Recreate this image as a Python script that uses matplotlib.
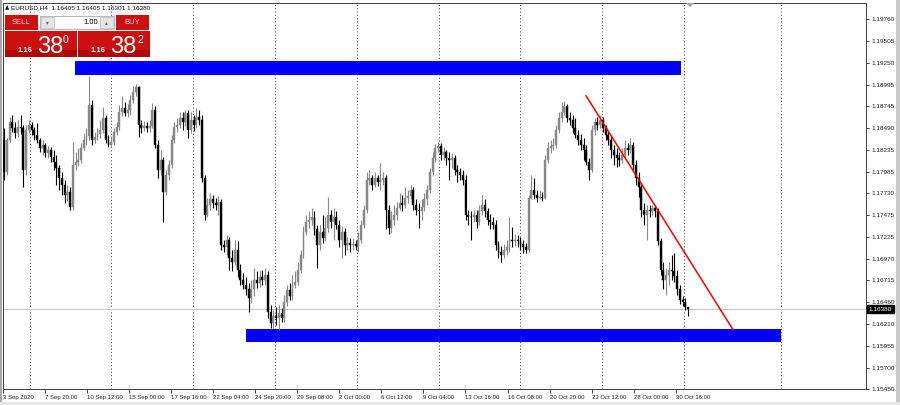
import matplotlib
matplotlib.use('Agg')
import matplotlib.pyplot as plt
from matplotlib.patches import Rectangle, Polygon
import numpy as np

plt.rcParams['font.family'] = ['Liberation Sans', 'DejaVu Sans']

# EURUSD H4 bars, 3 Sep 2020 .. 30 Oct 2020
opens = [
    1.1835, 1.1798, 1.1835, 1.1856, 1.1849, 1.1844, 1.1851, 1.1849, 1.1800, 1.1847,
    1.1853, 1.1847, 1.1841, 1.1835, 1.1826, 1.1830, 1.1820, 1.1824, 1.1816, 1.1810,
    1.1803, 1.1791, 1.1783, 1.1771, 1.1775, 1.1757, 1.1806, 1.1810, 1.1812, 1.1826,
    1.1835, 1.1840, 1.1876, 1.1835, 1.1839, 1.1842, 1.1847, 1.1861, 1.1835, 1.1830,
    1.1833, 1.1845, 1.1851, 1.1868, 1.1873, 1.1867, 1.1870, 1.1882, 1.1891, 1.1897,
    1.1853, 1.1849, 1.1852, 1.1849, 1.1852, 1.1870, 1.1830, 1.1800, 1.1812, 1.1775,
    1.1795, 1.1806, 1.1835, 1.1851, 1.1853, 1.1861, 1.1856, 1.1867, 1.1847, 1.1859,
    1.1853, 1.1862, 1.1859, 1.1791, 1.1748, 1.1760, 1.1766, 1.1762, 1.1760, 1.1763,
    1.1713, 1.1710, 1.1719, 1.1698, 1.1693, 1.1707, 1.1684, 1.1672, 1.1666, 1.1661,
    1.1651, 1.1661, 1.1672, 1.1669, 1.1675, 1.1672, 1.1678, 1.1635, 1.1622, 1.1630,
    1.1628, 1.1634, 1.1628, 1.1647, 1.1660, 1.1653, 1.1666, 1.1670, 1.1684, 1.1701,
    1.1728, 1.1740, 1.1742, 1.1746, 1.1731, 1.1713, 1.1728, 1.1721, 1.1733, 1.1748,
    1.1740, 1.1745, 1.1736, 1.1719, 1.1728, 1.1713, 1.1715, 1.1713, 1.1714, 1.1712,
    1.1719, 1.1736, 1.1754, 1.1789, 1.1791, 1.1783, 1.1791, 1.1786, 1.1789, 1.1791,
    1.1754, 1.1733, 1.1742, 1.1748, 1.1756, 1.1762, 1.1760, 1.1768, 1.1770, 1.1777,
    1.1760, 1.1754, 1.1752, 1.1757, 1.1766, 1.1777, 1.1798, 1.1814, 1.1826, 1.1828,
    1.1818, 1.1821, 1.1814, 1.1812, 1.1814, 1.1800, 1.1798, 1.1795, 1.1789, 1.1748,
    1.1746, 1.1745, 1.1748, 1.1740, 1.1752, 1.1760, 1.1752, 1.1742, 1.1740, 1.1736,
    1.1713, 1.1705, 1.1701, 1.1707, 1.1710, 1.1719, 1.1717, 1.1719, 1.1717, 1.1714,
    1.1710, 1.1707, 1.1768, 1.1777, 1.1771, 1.1768, 1.1769, 1.1768, 1.1812, 1.1826,
    1.1828, 1.1830, 1.1847, 1.1861, 1.1868, 1.1875, 1.1861, 1.1859, 1.1849, 1.1841,
    1.1835, 1.1830, 1.1824, 1.1810, 1.1800, 1.1847, 1.1856, 1.1853, 1.1859, 1.1849,
    1.1841, 1.1835, 1.1824, 1.1818, 1.1814, 1.1812, 1.1818, 1.1826, 1.1824, 1.1830,
    1.1806, 1.1791, 1.1780, 1.1754, 1.1748, 1.1754, 1.1752, 1.1756, 1.1752, 1.1717,
    1.1684, 1.1672, 1.1678, 1.1684, 1.1682, 1.1677, 1.1661, 1.1649, 1.1647, 1.16405,
]
highs = [
    1.1849, 1.1838, 1.1862, 1.1865, 1.1856, 1.1859, 1.1865, 1.1853, 1.1853, 1.1859,
    1.1856, 1.1851, 1.1855, 1.1838, 1.1835, 1.1832, 1.1828, 1.1827, 1.1824, 1.1818,
    1.1806, 1.1798, 1.1789, 1.1783, 1.1780, 1.1833, 1.1821, 1.1826, 1.1832, 1.1844,
    1.1849, 1.1910, 1.1882, 1.1845, 1.1849, 1.1859, 1.1874, 1.1865, 1.1841, 1.1840,
    1.1849, 1.1856, 1.1876, 1.1886, 1.1880, 1.1877, 1.1888, 1.1898, 1.1901, 1.1898,
    1.1859, 1.1858, 1.1856, 1.1859, 1.1879, 1.1875, 1.1835, 1.1824, 1.1816, 1.1800,
    1.1812, 1.1841, 1.1856, 1.1861, 1.1868, 1.1868, 1.1870, 1.1870, 1.1868, 1.1865,
    1.1873, 1.1870, 1.1865, 1.1795, 1.1768, 1.1774, 1.1771, 1.1768, 1.1770, 1.1766,
    1.1719, 1.1724, 1.1722, 1.1707, 1.1719, 1.1717, 1.1691, 1.1680, 1.1675, 1.1669,
    1.1672, 1.1686, 1.1682, 1.1684, 1.1684, 1.1686, 1.1682, 1.1643, 1.1637, 1.1641,
    1.1643, 1.1640, 1.1655, 1.1666, 1.1669, 1.1678, 1.1682, 1.1693, 1.1707, 1.1735,
    1.1748, 1.1752, 1.1756, 1.1752, 1.1736, 1.1736, 1.1748, 1.1745, 1.1769, 1.1754,
    1.1756, 1.1752, 1.1742, 1.1735, 1.1733, 1.1722, 1.1721, 1.1721, 1.1719, 1.1728,
    1.1742, 1.1760, 1.1798, 1.1800, 1.1795, 1.1798, 1.1795, 1.1809, 1.1798, 1.1795,
    1.1760, 1.1752, 1.1759, 1.1763, 1.1774, 1.1771, 1.1781, 1.1777, 1.1783, 1.1780,
    1.1766, 1.1762, 1.1766, 1.1774, 1.1783, 1.1803, 1.1821, 1.1831, 1.1833, 1.1832,
    1.1827, 1.1824, 1.1821, 1.1820, 1.1818, 1.1806, 1.1803, 1.1800, 1.1795, 1.1754,
    1.1752, 1.1754, 1.1754, 1.1760, 1.1771, 1.1766, 1.1756, 1.1749, 1.1745, 1.1742,
    1.1717, 1.1712, 1.1714, 1.1719, 1.1746, 1.1734, 1.1726, 1.1725, 1.1722, 1.1719,
    1.1715, 1.1771, 1.1795, 1.1791, 1.1777, 1.1777, 1.1775, 1.1818, 1.1833, 1.1835,
    1.1838, 1.1853, 1.1868, 1.1880, 1.1881, 1.1877, 1.1868, 1.1865, 1.1861, 1.1847,
    1.1842, 1.1838, 1.1830, 1.1814, 1.1853, 1.1861, 1.1862, 1.1865, 1.1862, 1.1853,
    1.1845, 1.1840, 1.1830, 1.1826, 1.1821, 1.1826, 1.1835, 1.1832, 1.1838, 1.1833,
    1.1812, 1.1798, 1.1785, 1.1762, 1.1760, 1.1760, 1.1760, 1.1760, 1.1756, 1.1721,
    1.1693, 1.1686, 1.1693, 1.1701, 1.1704, 1.1684, 1.1666, 1.1654, 1.1651, 1.16405,
]
lows = [
    1.1789, 1.1795, 1.1833, 1.1845, 1.1838, 1.1839, 1.1842, 1.1781, 1.1795, 1.1844,
    1.1841, 1.1835, 1.1832, 1.1821, 1.1818, 1.1816, 1.1814, 1.1810, 1.1800, 1.1783,
    1.1777, 1.1771, 1.1762, 1.1764, 1.1754, 1.1754, 1.1800, 1.1805, 1.1809, 1.1824,
    1.1830, 1.1835, 1.1830, 1.1832, 1.1835, 1.1838, 1.1844, 1.1832, 1.1827, 1.1827,
    1.1830, 1.1841, 1.1847, 1.1863, 1.1863, 1.1862, 1.1865, 1.1879, 1.1887, 1.1839,
    1.1844, 1.1846, 1.1845, 1.1845, 1.1849, 1.1826, 1.1791, 1.1795, 1.1740, 1.1771,
    1.1789, 1.1803, 1.1832, 1.1845, 1.1849, 1.1847, 1.1852, 1.1838, 1.1844, 1.1846,
    1.1849, 1.1853, 1.1786, 1.1742, 1.1745, 1.1754, 1.1756, 1.1754, 1.1748, 1.1707,
    1.1705, 1.1701, 1.1684, 1.1682, 1.1690, 1.1675, 1.1666, 1.1661, 1.1655, 1.1635,
    1.1645, 1.1654, 1.1663, 1.1664, 1.1666, 1.1666, 1.1628, 1.1616, 1.1616, 1.1620,
    1.1614, 1.1623, 1.1623, 1.1642, 1.1649, 1.1649, 1.1663, 1.1666, 1.1680, 1.1698,
    1.1724, 1.1733, 1.1736, 1.1725, 1.1686, 1.1707, 1.1715, 1.1717, 1.1728, 1.1733,
    1.1719, 1.1731, 1.1710, 1.1698, 1.1701, 1.1707, 1.1705, 1.1707, 1.1707, 1.1705,
    1.1715, 1.1733, 1.1750, 1.1783, 1.1777, 1.1780, 1.1782, 1.1777, 1.1783, 1.1731,
    1.1726, 1.1727, 1.1736, 1.1742, 1.1754, 1.1752, 1.1756, 1.1762, 1.1766, 1.1754,
    1.1748, 1.1733, 1.1742, 1.1752, 1.1760, 1.1774, 1.1794, 1.1810, 1.1821, 1.1812,
    1.1812, 1.1806, 1.1789, 1.1803, 1.1795, 1.1786, 1.1789, 1.1783, 1.1742, 1.1736,
    1.1719, 1.1740, 1.1733, 1.1736, 1.1748, 1.1745, 1.1736, 1.1731, 1.1731, 1.1707,
    1.1698, 1.1693, 1.1698, 1.1701, 1.1705, 1.1710, 1.1712, 1.1710, 1.1707, 1.1704,
    1.1704, 1.1705, 1.1766, 1.1766, 1.1763, 1.1766, 1.1764, 1.1766, 1.1809, 1.1820,
    1.1824, 1.1826, 1.1844, 1.1856, 1.1865, 1.1856, 1.1853, 1.1844, 1.1838, 1.1830,
    1.1824, 1.1812, 1.1806, 1.1789, 1.1798, 1.1841, 1.1847, 1.1849, 1.1845, 1.1835,
    1.1830, 1.1814, 1.1806, 1.1804, 1.1805, 1.1809, 1.1814, 1.1818, 1.1820, 1.1800,
    1.1783, 1.1769, 1.1745, 1.1736, 1.1719, 1.1745, 1.1748, 1.1746, 1.1713, 1.1678,
    1.1661, 1.1655, 1.1666, 1.1672, 1.1670, 1.1655, 1.1644, 1.1642, 1.1637, 1.16301,
]
closes = [
    1.1798, 1.1835, 1.1856, 1.1849, 1.1844, 1.1851, 1.1849, 1.1800, 1.1847, 1.1853,
    1.1847, 1.1841, 1.1835, 1.1826, 1.1830, 1.1820, 1.1824, 1.1816, 1.1810, 1.1803,
    1.1791, 1.1783, 1.1771, 1.1775, 1.1757, 1.1806, 1.1810, 1.1812, 1.1826, 1.1835,
    1.1840, 1.1876, 1.1835, 1.1839, 1.1842, 1.1847, 1.1861, 1.1835, 1.1830, 1.1833,
    1.1845, 1.1851, 1.1868, 1.1873, 1.1867, 1.1870, 1.1882, 1.1891, 1.1897, 1.1853,
    1.1849, 1.1852, 1.1849, 1.1852, 1.1870, 1.1830, 1.1800, 1.1812, 1.1775, 1.1795,
    1.1806, 1.1835, 1.1851, 1.1853, 1.1861, 1.1856, 1.1867, 1.1847, 1.1859, 1.1853,
    1.1862, 1.1859, 1.1791, 1.1748, 1.1760, 1.1766, 1.1762, 1.1760, 1.1763, 1.1713,
    1.1710, 1.1719, 1.1698, 1.1693, 1.1707, 1.1684, 1.1672, 1.1666, 1.1661, 1.1651,
    1.1661, 1.1672, 1.1669, 1.1675, 1.1672, 1.1678, 1.1635, 1.1622, 1.1630, 1.1628,
    1.1634, 1.1628, 1.1647, 1.1660, 1.1653, 1.1666, 1.1670, 1.1684, 1.1701, 1.1728,
    1.1740, 1.1742, 1.1746, 1.1731, 1.1713, 1.1728, 1.1721, 1.1733, 1.1748, 1.1740,
    1.1745, 1.1736, 1.1719, 1.1728, 1.1713, 1.1715, 1.1713, 1.1714, 1.1712, 1.1719,
    1.1736, 1.1754, 1.1789, 1.1791, 1.1783, 1.1791, 1.1786, 1.1789, 1.1791, 1.1754,
    1.1733, 1.1742, 1.1748, 1.1756, 1.1762, 1.1760, 1.1768, 1.1770, 1.1777, 1.1760,
    1.1754, 1.1752, 1.1757, 1.1766, 1.1777, 1.1798, 1.1814, 1.1826, 1.1828, 1.1818,
    1.1821, 1.1814, 1.1812, 1.1814, 1.1800, 1.1798, 1.1795, 1.1789, 1.1748, 1.1746,
    1.1745, 1.1748, 1.1740, 1.1752, 1.1760, 1.1752, 1.1742, 1.1740, 1.1736, 1.1713,
    1.1705, 1.1701, 1.1707, 1.1710, 1.1719, 1.1717, 1.1719, 1.1717, 1.1714, 1.1710,
    1.1707, 1.1768, 1.1777, 1.1771, 1.1768, 1.1769, 1.1768, 1.1812, 1.1826, 1.1828,
    1.1830, 1.1847, 1.1861, 1.1868, 1.1875, 1.1861, 1.1859, 1.1849, 1.1841, 1.1835,
    1.1830, 1.1824, 1.1810, 1.1800, 1.1847, 1.1856, 1.1853, 1.1859, 1.1849, 1.1841,
    1.1835, 1.1824, 1.1818, 1.1814, 1.1812, 1.1818, 1.1826, 1.1824, 1.1830, 1.1806,
    1.1791, 1.1780, 1.1754, 1.1748, 1.1754, 1.1752, 1.1756, 1.1752, 1.1717, 1.1684,
    1.1672, 1.1678, 1.1684, 1.1682, 1.1677, 1.1661, 1.1649, 1.1647, 1.1641, 1.16380,
]

last_price = 1.16380
price_ticks = [1.19760, 1.19505, 1.19250, 1.18995, 1.18745, 1.18490, 1.18235,
               1.17985, 1.17730, 1.17475, 1.17225, 1.16970, 1.16715, 1.16460,
               1.16210, 1.15955, 1.15700, 1.15450]
time_ticks = [-0.4, 14.9, 30.2, 45.5, 60.8, 76.1, 91.4, 106.7, 122.0, 137.2,
              152.5, 167.8, 183.5, 198.8, 214.1, 229.4, 244.6]
time_labels = ['3 Sep 2020', '7 Sep 20:00', '10 Sep 12:00', '15 Sep 00:00',
               '17 Sep 16:00', '22 Sep 04:00', '24 Sep 20:00', '29 Sep 08:00',
               '2 Oct 00:00', '6 Oct 12:00', '9 Oct 04:00', '13 Oct 16:00',
               '16 Oct 08:00', '20 Oct 20:00', '23 Oct 12:00', '28 Oct 00:00',
               '30 Oct 16:00']
grid_bars = [9.5, 39.0, 68.8, 98.7, 128.5, 158.4, 187.8, 217.7, 247.5, 282.9]

# drawn objects: supply / demand zones and the falling trendline
zone_top = (25.8, 246.4, 1.19111, 1.19274)
zone_bottom = (88.1, 282.9, 1.16001, 1.16152)
trend_x = [211.9, 265.4]
trend_y = [1.18867, 1.16141]

W, H = 900, 405
fig = plt.figure(figsize=(9, 4.05), dpi=100)
fig.patch.set_facecolor('white')


def fx(x):
    return x / W


def fy(y):
    return 1 - y / H


ax = fig.add_axes([fx(3), fy(389), fx(866) - fx(3), fy(3) - fy(389)])
ax.set_xlim(-0.36, 313.8)
ax.set_ylim(1.15453, 1.19950)
ax.set_facecolor('white')

o = np.array(opens)
h = np.array(highs)
l = np.array(lows)
c = np.array(closes)
idx = np.arange(len(o))
up = c >= o
bull, bear = '#888888', '#000000'

# vertical week separators (dotted)
for gx in grid_bars:
    ax.axvline(gx, color='#505050', lw=0.7, linestyle=(0, (1.2, 2.2)), zorder=1)

# zones
for x0, x1, y0, y1 in (zone_top, zone_bottom):
    ax.add_patch(Rectangle((x0, y0), x1 - x0, y1 - y0, facecolor='#0000ff',
                           edgecolor='none', zorder=2))

ax.axhline(last_price, color='#c8c8c8', lw=0.8, zorder=2)

# candles
ax.vlines(idx[up], l[up], h[up], color=bull, lw=0.8, zorder=3)
ax.vlines(idx[~up], l[~up], h[~up], color=bear, lw=0.8, zorder=3)
body = np.maximum(np.abs(c - o), 0.00004)
bottom = np.minimum(o, c)
ax.bar(idx[up], body[up], bottom=bottom[up], width=0.7, color=bull,
       edgecolor=bull, lw=0.3, zorder=4)
ax.bar(idx[~up], body[~up], bottom=bottom[~up], width=0.7, color=bear,
       edgecolor=bear, lw=0.3, zorder=4)

ax.plot(trend_x, trend_y, color='#ff0000', lw=1.1, zorder=5)

# axes styling
for s in ax.spines.values():
    s.set_color('#404040')
    s.set_linewidth(0.7)
ax.yaxis.tick_right()
ax.set_yticks(price_ticks)
ax.set_yticklabels(['{:.5f}'.format(v) for v in price_ticks])
ax.tick_params(axis='y', length=2.5, width=0.6, pad=1.5, labelsize=4.6,
               colors='#202020')
ax.set_xticks(time_ticks)
ax.set_xticklabels(time_labels, ha='left')
ax.tick_params(axis='x', length=3, width=0.6, pad=1.2, labelsize=4.3,
               colors='#202020')

# current price tag on the axis
ax.annotate('{:.5f}'.format(last_price), xy=(1.0, last_price),
            xycoords=('axes fraction', 'data'), xytext=(2, 0),
            textcoords='offset points', ha='left', va='center',
            fontsize=4.6, color='white',
            bbox=dict(boxstyle='square,pad=0.25', fc='black', ec='black'))

# chart shift marker
fig.add_artist(Polygon([(fx(686), fy(3)), (fx(694), fy(3)), (fx(690), fy(7))],
                       closed=True, fc='#a0a0a0', ec='none',
                       transform=fig.transFigure))

# window edges
fig.add_artist(Rectangle((0, 0), fx(2), 1, fc='#a8a8a8', ec='none',
                         transform=fig.transFigure))
fig.add_artist(Rectangle((fx(896), 0), fx(4), 1, fc='#c8c8c8', ec='none',
                         transform=fig.transFigure))
fig.add_artist(Rectangle((0, 0), 1, fy(402), fc='#e6e6e6', ec='none',
                         transform=fig.transFigure))

# header
fig.text(fx(5), fy(7.5), '\u25b2', fontsize=4, va='center', ha='left',
         family=['DejaVu Sans'])
fig.text(fx(11), fy(7.5), 'EURUSD,H4  1.16405 1.16405 1.16301 1.16380',
         fontsize=4.6, va='center', ha='left', color='#101010')

# one-click trading panel
red = '#cc1010'


def box(x, y, w, hh, fc, ec='none', lw=0.0):
    fig.add_artist(Rectangle((fx(x), fy(y + hh)), w / W, hh / H, fc=fc, ec=ec,
                             lw=lw, transform=fig.transFigure))


box(5, 15, 33, 15, red)
box(116, 15, 33, 15, red)
box(40, 16, 74, 13, 'white', '#9a9a9a', 0.5)
box(41, 17, 13, 11, '#e4e4e4', '#b0b0b0', 0.4)
box(100, 17, 13, 11, '#e4e4e4', '#b0b0b0', 0.4)
box(5, 31, 72, 26, red)
box(78, 31, 72, 26, red)
box(5, 50, 72, 7, '#b00808')
box(78, 50, 72, 7, '#b00808')

fig.text(fx(21.5), fy(22.5), 'SELL', fontsize=5.5, color='#ffd0d0',
         ha='center', va='center')
fig.text(fx(132.5), fy(22.5), 'BUY', fontsize=5.5, color='#ffd0d0',
         ha='center', va='center')
fig.text(fx(47.5), fy(22.5), '\u25be', fontsize=4, color='#4060a0',
         ha='center', va='center', family=['DejaVu Sans'])
fig.text(fx(106.5), fy(22.5), '\u25b4', fontsize=4, color='#4060a0',
         ha='center', va='center', family=['DejaVu Sans'])
fig.text(fx(98), fy(22.5), '1.00', fontsize=5.5, color='black',
         ha='right', va='center')

for x_small, x_big, x_sup, sup in ((18, 37, 63, '0'), (91, 110, 137, '2')):
    fig.text(fx(x_small), fy(52), '1.16', fontsize=5.5, color='white',
             weight='bold', ha='left', va='baseline')
    fig.text(fx(x_big), fy(53), '38', fontsize=17, color='white',
             ha='left', va='baseline')
    fig.text(fx(x_sup), fy(43), sup, fontsize=7.5, color='white',
             ha='left', va='baseline')

fig.savefig('out.png', dpi=100, facecolor=fig.get_facecolor())
